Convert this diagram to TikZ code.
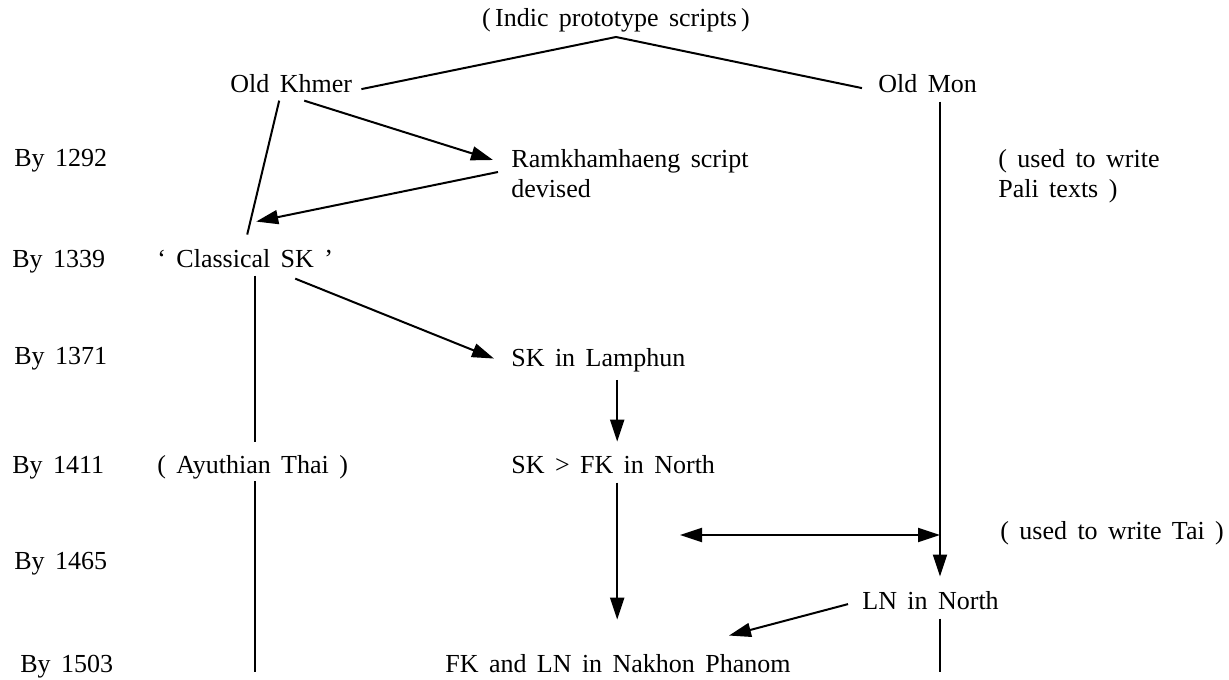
\documentclass[tikz,border=0pt]{standalone}
\usepackage{fontspec}
\setmainfont{Liberation Serif}
\usetikzlibrary{calc,arrows.meta}
\newcommand\widespace{\spaceskip=0.4em\relax}
\tikzset{
	txt/.style={anchor=base west, inner sep=0pt, font=\fontsize{13}{15}\selectfont, execute at begin node=\widespace},
	ln/.style={line width=1pt},
	arr/.style={line width=1pt, -{Triangle[length=11pt,width=7pt]}},
	dblarr/.style={line width=1pt, {Triangle[length=11pt,width=7pt]}-{Triangle[length=11pt,width=7pt]}}
}

\begin{document}
\begin{tikzpicture}[x=0.5pt,y=-0.5pt]
				%%%%% TIMELINE %%%%%
				\def\xyear{13}
				\def\xleft{157}
				\def\xmid{511}
				\def\xmon{940}
				\def\ydbl{535}

				\useasboundingbox (0,0) rectangle (1229,679);

				\node[txt, anchor=base] (title) at (616,27) {(\,Indic prototype scripts\,)};
				\node[txt] (okhmer) at (230,93) {Old Khmer};
				\node[txt] (omon) at (878,93) {Old Mon};

				\node[txt] (y1292) at (\xyear+1,167) {By 1292};
				\node[txt, anchor=north west, align=left] (ramk) at (\xmid,149) {Ramkhamhaeng script\\devised};
				\node[txt, anchor=north west, align=left] (pali) at (998,149) {( used to write\\Pali texts )};

				\node[txt] (y1339) at (\xyear-1,267) {By 1339};
				\node[txt] (classic) at (\xleft,267) {` Classical SK '};

				\node[txt] (y1371) at (\xyear+1,364) {By 1371};
				\node[txt] (lamph) at (\xmid,366) {SK in Lamphun};

				\node[txt] (y1411) at (\xyear-1,473) {By 1411};
				\node[txt] (ayu) at (\xleft,473) {( Ayuthian Thai )};
				\node[txt] (skfk) at (\xmid,473) {SK > FK in North};

				\node[txt] (tai) at (1000,539) {( used to write Tai )};
				\node[txt] (y1465) at (\xyear+1,569) {By 1465};
				\node[txt] (lnn) at (862,609) {LN in North};

				\node[txt] (y1503) at (\xyear+7,672) {By 1503};
				\node[txt] (nakhon) at (445,672) {FK and LN in Nakhon Phanom};

				\coordinate (apex) at (616,37);
				\coordinate (junc) at (\xmon,\ydbl);
				\coordinate (dleft) at (680,\ydbl);

				\draw[ln] ($(okhmer.east)+(9,5)$) -- (apex) -- ($(omon.west)+(-16,4)$);
				\draw[ln] ($(okhmer.south)+(-12,7)$) -- ($(classic.north)+(2,-14)$);
				\draw[arr] ($(okhmer.south)+(13,7)$) -- ($(ramk.north west)+(-18,11)$);
				\draw[arr] ($(ramk.north west)+(-13,23)$) -- ($(classic.north)+(11,-27)$);

				\draw[ln] ($(ayu.north |- classic.south)+(2,8)$) -- ($(ayu.north)+(2,-13)$);
				\draw[ln] ($(ayu.south)+(2,2)$) -- ($(ayu.south |- nakhon.base)+(2,0)$);
				\draw[arr] ($(classic.south)+(50,11)$) -- ($(lamph.north west)+(-17,11)$);

				\draw[arr] ($(skfk.north |- lamph.south)+(4,8)$) -- ($(skfk.north)+(4,-13)$);
				\draw[arr] ($(skfk.south)+(4,9)$) -- ($(skfk.south |- nakhon.north)+(4,-34)$);

				\draw[ln] ($(junc |- omon.south)+(0,8)$) -- (junc);
				\draw[arr] (junc) -- ($(junc |- lnn.north)+(0,-14)$);
				\draw[dblarr] (dleft) -- (junc);
				\draw[arr] ($(lnn.west)+(-14,4)$) -- ($(nakhon.north)+(111,-18)$);
				\draw[ln] ($(junc |- lnn.south)+(0,9)$) -- (junc |- nakhon.base);
				%%%%% TIMELINE %%%%%
\end{tikzpicture}
\end{document}
